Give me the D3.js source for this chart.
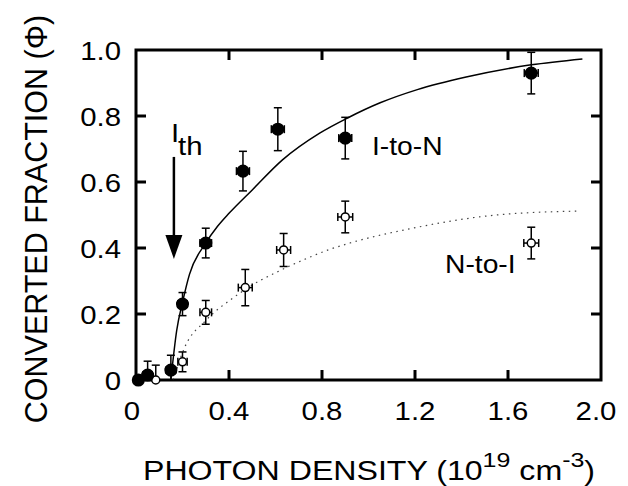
<!DOCTYPE html>
<html lang="en">

<head>
  <meta charset="UTF-8">
  <title>Converted fraction vs photon density</title>
  <script src="https://d3js.org/d3.v7.min.js"></script>
  <style>
    body {
      margin: 0;
      background: #fff;
      overflow: hidden;
    }

    svg text {
      font-family: 'Liberation Sans', Arial, Helvetica, sans-serif;
      fill: #000;
    }
  </style>
</head>

<body>
  <svg id="chart"></svg>
  <script>
    // I-to-N (filled circles)
    const filledX = [0.01, 0.05, 0.15, 0.20, 0.30, 0.46, 0.61, 0.90, 1.70];
    const filledY = [0.00, 0.015, 0.03, 0.23, 0.415, 0.633, 0.76, 0.733, 0.93];
    const filledYErr = [0, 0.042, 0.045, 0.035, 0.045, 0.06, 0.065, 0.063, 0.063];
    const filledXErr = [0, 0.02, 0.02, 0.02, 0.025, 0.028, 0.028, 0.028, 0.03];

    // N-to-I (open circles)
    const openX = [0.085, 0.20, 0.30, 0.47, 0.635, 0.90, 1.70];
    const openY = [0.00, 0.055, 0.205, 0.28, 0.394, 0.494, 0.415];
    const openYErr = [0.045, 0.03, 0.036, 0.055, 0.05, 0.048, 0.048];
    const openXErr = [0, 0.02, 0.025, 0.03, 0.03, 0.032, 0.032];

    // fitted curves
    const solidX = [0.15, 0.175, 0.20, 0.23, 0.30, 0.35, 0.40, 0.50, 0.63, 0.79, 0.91, 1.05, 1.21, 1.42, 1.70, 1.92];
    const solidY = [0.00, 0.15, 0.235, 0.32, 0.415, 0.465, 0.505, 0.576, 0.667, 0.748, 0.794, 0.84, 0.88, 0.918, 0.955, 0.973];
    const dottedX = [0.16, 0.21, 0.30, 0.42, 0.53, 0.60, 0.74, 0.83, 0.92, 1.19, 1.55, 1.91];
    const dottedY = [0.00, 0.10, 0.18, 0.25, 0.30, 0.325, 0.37, 0.395, 0.415, 0.46, 0.50, 0.512];

    const xTicks = [0, 0.4, 0.8, 1.2, 1.6, 2.0];
    const yTicks = [0, 0.2, 0.4, 0.6, 0.8, 1.0];
    const xTickLabels = ['0', '0.4', '0.8', '1.2', '1.6', '2.0'];
    const yTickLabels = ['0', '0.2', '0.4', '0.6', '0.8', '1.0'];

    // threshold arrow (x position, top and tip in Φ units)
    const ithX = 0.163;
    const ithTop = 0.676;
    const ithTip = 0.367;

    const width = 628;
    const height = 486;
    const margin = { left: 136, right: 27, top: 50, bottom: 106 };
    const stretch = 1.13;

    const svg = d3.select('#chart')
      .attr('width', width)
      .attr('height', height);

    const x = d3.scaleLinear().domain([0, 2]).range([margin.left, width - margin.right]);
    const y = d3.scaleLinear().domain([0, 1]).range([height - margin.bottom, margin.top]);

    const stretchedText = (px, py, k = stretch) => `translate(${px},${py}) scale(${k},1)`;

    // frame
    svg.append('rect')
      .attr('x', x(0))
      .attr('y', y(1))
      .attr('width', x(2) - x(0))
      .attr('height', y(0) - y(1))
      .attr('fill', 'none')
      .attr('stroke', '#000')
      .attr('stroke-width', 3);

    // inward ticks, all four sides
    const tickLen = 10;
    const innerX = xTicks.slice(1, -1);
    const innerY = yTicks.slice(1, -1);
    const ticks = svg.append('g').attr('stroke', '#000').attr('stroke-width', 3);
    innerX.forEach(t => {
      ticks.append('line').attr('x1', x(t)).attr('x2', x(t)).attr('y1', y(0)).attr('y2', y(0) - tickLen);
      ticks.append('line').attr('x1', x(t)).attr('x2', x(t)).attr('y1', y(1)).attr('y2', y(1) + tickLen);
    });
    innerY.forEach(t => {
      ticks.append('line').attr('y1', y(t)).attr('y2', y(t)).attr('x1', x(0)).attr('x2', x(0) + tickLen);
      ticks.append('line').attr('y1', y(t)).attr('y2', y(t)).attr('x1', x(2)).attr('x2', x(2) - tickLen);
    });

    // tick labels
    svg.selectAll('text.xtick')
      .data(xTicks)
      .enter()
      .append('text')
      .attr('class', 'xtick')
      .attr('transform', (d, i) => stretchedText(x(d) + (i === 0 ? -4 : i === xTicks.length - 1 ? -5 : 0), 420))
      .attr('text-anchor', 'middle')
      .style('font-size', '26px')
      .text((d, i) => xTickLabels[i]);

    svg.selectAll('text.ytick')
      .data(yTicks)
      .enter()
      .append('text')
      .attr('class', 'ytick')
      .attr('transform', d => stretchedText(121, y(d) + 10))
      .attr('text-anchor', 'end')
      .style('font-size', '26px')
      .text((d, i) => yTickLabels[i]);

    // axis titles
    const xTitle = svg.append('text')
      .attr('transform', stretchedText(143, 480, 1.19))
      .style('font-size', '27px');
    xTitle.append('tspan').text('PHOTON DENSITY (10');
    xTitle.append('tspan').attr('dy', -13).style('font-size', '21px').text('19');
    xTitle.append('tspan').attr('dy', 13).text(' cm');
    xTitle.append('tspan').attr('dy', -13).style('font-size', '21px').text('-3');
    xTitle.append('tspan').attr('dy', 13).text(')');

    svg.append('text')
      .attr('transform', 'translate(47,219) rotate(-90)')
      .attr('text-anchor', 'middle')
      .style('font-size', '30.5px')
      .text('CONVERTED FRACTION (\u03A6)');

    // curves
    const line = d3.line()
      .x(d => x(d[0]))
      .y(d => y(d[1]))
      .curve(d3.curveMonotoneX);

    svg.append('path')
      .attr('d', line(d3.zip(solidX, solidY)))
      .attr('fill', 'none')
      .attr('stroke', '#000')
      .attr('stroke-width', 1.5);

    svg.append('path')
      .attr('d', line(d3.zip(dottedX, dottedY)))
      .attr('fill', 'none')
      .attr('stroke', '#444')
      .attr('stroke-width', 1.2)
      .attr('stroke-dasharray', '1.5,4.5');

    // error bars and markers
    function drawSeries(xs, ys, yErr, xErr, filled) {
      const cap = 4;
      const g = svg.append('g').attr('stroke', '#000').attr('stroke-width', 1.5);
      xs.forEach((xv, i) => {
        const cx = x(xv);
        const cy = y(ys[i]);
        if (yErr[i] > 0) {
          const top = y(ys[i] + yErr[i]);
          const bot = y(Math.max(0, ys[i] - yErr[i]));
          g.append('line').attr('x1', cx).attr('x2', cx).attr('y1', top).attr('y2', bot);
          g.append('line').attr('x1', cx - cap).attr('x2', cx + cap).attr('y1', top).attr('y2', top);
          g.append('line').attr('x1', cx - cap).attr('x2', cx + cap).attr('y1', bot).attr('y2', bot);
        }
        if (xErr[i] > 0) {
          const lft = x(xv - xErr[i]);
          const rgt = x(xv + xErr[i]);
          g.append('line').attr('x1', lft).attr('x2', rgt).attr('y1', cy).attr('y2', cy);
          g.append('line').attr('x1', lft).attr('x2', lft).attr('y1', cy - cap).attr('y2', cy + cap);
          g.append('line').attr('x1', rgt).attr('x2', rgt).attr('y1', cy - cap).attr('y2', cy + cap);
        }
      });
      svg.selectAll(null)
        .data(d3.zip(xs, ys))
        .enter()
        .append('circle')
        .attr('cx', d => x(d[0]))
        .attr('cy', d => y(d[1]))
        .attr('r', filled ? 5.8 : 4)
        .attr('fill', filled ? '#000' : '#fff')
        .attr('stroke', '#000')
        .attr('stroke-width', 1.5);
    }

    drawSeries(openX, openY, openYErr, openXErr, false);
    drawSeries(filledX, filledY, filledYErr, filledXErr, true);

    // I_th arrow
    svg.append('line')
      .attr('x1', x(ithX))
      .attr('x2', x(ithX))
      .attr('y1', y(ithTop))
      .attr('y2', y(ithTip) - 20)
      .attr('stroke', '#000')
      .attr('stroke-width', 2.5);
    svg.append('path')
      .attr('d', `M${x(ithX) - 8.5},${y(ithTip) - 24}L${x(ithX) + 8.5},${y(ithTip) - 24}L${x(ithX)},${y(ithTip)}Z`)
      .attr('fill', '#000');

    svg.append('text')
      .attr('transform', stretchedText(171, 142))
      .style('font-size', '26px')
      .text('I');
    svg.append('text')
      .attr('transform', stretchedText(178, 155))
      .style('font-size', '26px')
      .text('th');

    // series labels
    svg.append('text')
      .attr('transform', stretchedText(372, 155))
      .style('font-size', '25px')
      .text('I-to-N');
    svg.append('text')
      .attr('transform', stretchedText(445, 273))
      .style('font-size', '25px')
      .text('N-to-I');
  </script>
</body>

</html>
